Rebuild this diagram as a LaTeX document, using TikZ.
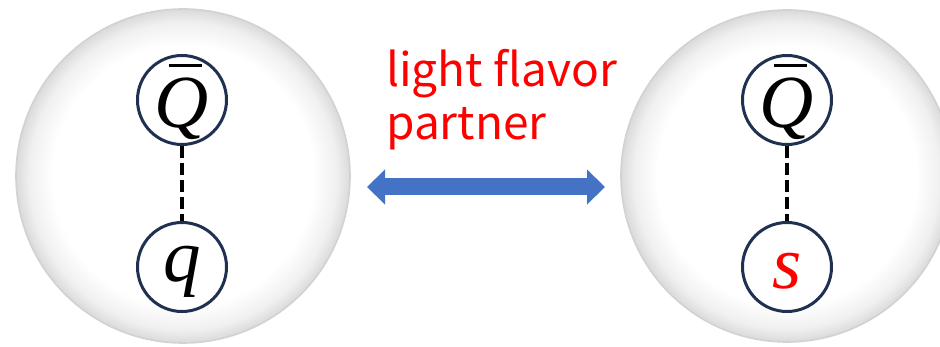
\documentclass[tikz,border=0pt]{standalone}
\usepackage{fontspec}
\newfontfamily\labelfont{Noto Sans CJK JP}
\newfontfamily\quarkfont{Liberation Serif Italic}
\usetikzlibrary{arrows.meta}
\definecolor{quarkblue}{HTML}{1F3050}
\definecolor{arrowblue}{HTML}{4472C4}
\definecolor{ballrim}{HTML}{D2D2D2}
\definecolor{balledge}{HTML}{DADADA}
\definecolor{ballmid}{HTML}{F0F0F0}
\pgfdeclareradialshading{ballshade}{\pgfpoint{0bp}{0bp}}{%
  color(0bp)=(white); color(19.5bp)=(white); color(23bp)=(ballmid); color(25bp)=(balledge); color(50bp)=(balledge)}
\tikzset{
  ball/.style={draw=ballrim, line width=1.6pt, shading=ballshade},
  quark/.style={circle, draw=quarkblue, line width=3pt, fill=white, minimum size=89pt, inner sep=0pt,
    font=\quarkfont\fontsize{75}{75}\selectfont, text depth=0pt},
  bond/.style={dash pattern=on 12pt off 5pt, line width=3.6pt, black},
  barline/.style={line width=3.5pt, black},
  flavorarrow/.style={arrowblue, line width=17pt, {Triangle[length=18pt,width=34pt]}-{Triangle[length=18pt,width=34pt]}}
}
\begin{document}
\begin{tikzpicture}[x=1pt,y=-1pt]
\useasboundingbox (0,0) rectangle (940,347);
\clip (0,0) rectangle (940,347);
% big balls
\shade[ball] (183,176) circle (167);
\shade[ball] (787,176) circle (166);
% left meson
\node[quark, text height=56pt] (QL) at (182,100) {Q};
\node[quark, text height=30pt] (qL) at (182,267) {q};
\draw[bond] (QL.south) -- (qL.north);
\draw[barline] ([shift={(-13,-34.5)}]QL.center) -- ([shift={(20,-34.5)}]QL.center);
% right meson
\node[quark, text height=56pt] (QR) at (787,100) {Q};
\node[quark, text height=44pt, text=red] (sR) at (787,267) {s};
\draw[bond] (QR.south) -- (sR.north);
\draw[barline] ([shift={(-13,-34.5)}]QR.center) -- ([shift={(20,-34.5)}]QR.center);
% label
\node[anchor=base west, text=red, font=\labelfont\fontsize{46}{53}\selectfont, inner sep=0pt, align=left] (lbl) at (386,140) {light flavor\\partner};
% arrow
\coordinate (aL) at (367,187);
\coordinate (aR) at (605,187);
\draw[flavorarrow] (aL) -- (aR);
\end{tikzpicture}
\end{document}
